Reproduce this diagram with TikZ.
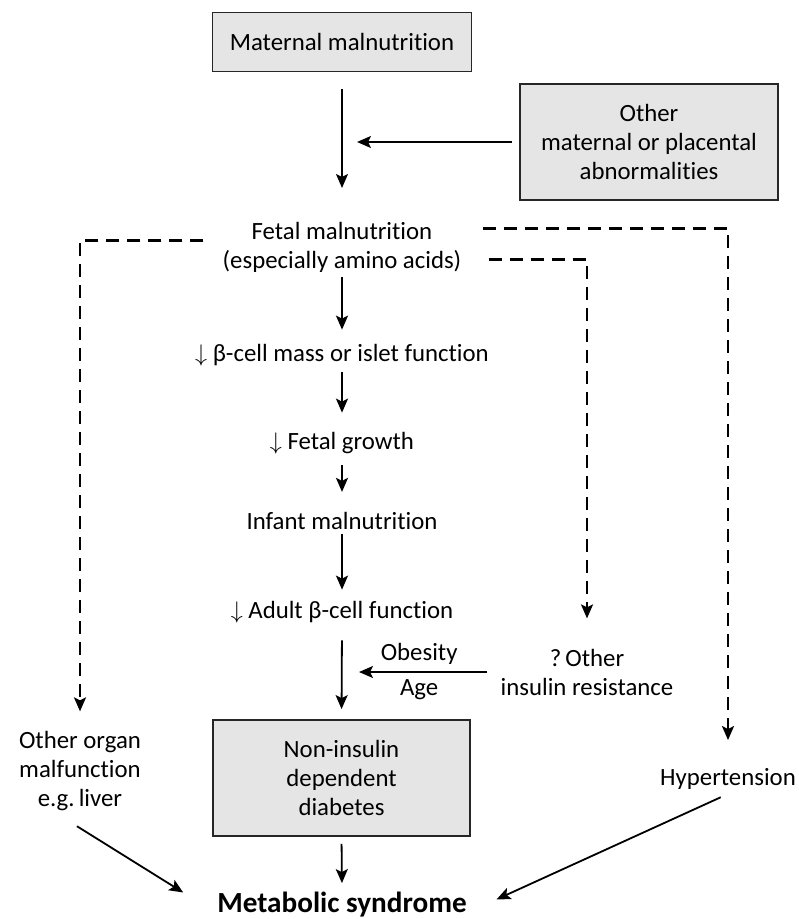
\documentclass[tikz,border=0pt]{standalone}
\usepackage{fontspec}
\setmainfont{Carlito}[RawFeature={-liga}]
\usetikzlibrary{arrows.meta}
\tikzset{
  box/.style={draw=black!85, line width=0.9pt, fill=black!10, align=center, inner sep=4pt},
  txt/.style={align=center, inner sep=2pt},
  arr/.style={line width=0.9pt, -{Stealth[length=7pt,width=6pt,inset=1.5pt]}},
  dsh/.style={arr, line width=1.1pt, dash pattern=on 6.5pt off 4pt},
}
\begin{document}
\begin{tikzpicture}[x=0.5pt, y=-0.5pt, font=\fontsize{12.4}{14.5}\selectfont]
    \useasboundingbox (0,0) rectangle (798,919);
    \node (mat) at (342,42) [box, minimum width=129.5pt, minimum height=29.5pt] {Maternal malnutrition};
    \node (oth) at (649,142) [box, minimum width=129pt, minimum height=58pt] {Other\\maternal or placental\\abnormalities};
    \node (fetal) at (342,247.5) [txt] {Fetal malnutrition\\(especially amino acids)};
    \node (beta) at (342,355) [txt] {$\downarrow$ β-cell mass or islet function};
    \node (growth) at (342,443) [txt] {$\downarrow$ Fetal growth};
    \node (infant) at (342,521) [txt] {Infant malnutrition};
    \node (adult) at (342,612) [txt] {$\downarrow$ Adult β-cell function};
    \node (ins) at (587,672) [txt] {?\,Other\\insulin resistance};
    \node (nidd) at (341.5,778) [box, minimum width=128.5pt, minimum height=58pt] {Non-insulin\\dependent\\diabetes};
    \node (organ) at (80,771.5) [txt] {Other organ\\malfunction\\e.g.\,liver};
    \node (hyper) at (728,779) [txt] {Hypertension};
    \node (meta) at (342,905) [txt, font=\fontsize{14.6}{17}\selectfont\bfseries] {Metabolic syndrome};

    \draw[arr, shorten <=8.5pt, shorten >=15pt] (mat.south) -- (fetal.north);
    \draw[arr, shorten <=3.5pt, shorten >=7.5pt] (oth.west) -- (oth.west -| mat.south);
    \draw[arr, shorten >=5pt] (fetal.south) -- (beta.north);
    \draw[arr, shorten <=1pt, shorten >=7.5pt] (beta.south) -- (growth.north);
    \draw[arr, shorten <=3.5pt, shorten >=8pt] (growth.south) -- (infant.north);
    \draw[arr, shorten >=3.5pt] (infant.south) -- (adult.north);
    \draw[arr, shorten <=6.5pt, shorten >=5pt] (adult.south) -- (nidd.north);
    \draw[arr, shorten <=3.5pt, shorten >=2.5pt] (nidd.south) -- (meta.north);
    \draw[arr, shorten <=4.5pt, shorten >=8.5pt] (ins.west) -- (ins.west -| adult.south)
        node[midway, above] (obes) {Obesity} node[midway, below] (age) {Age};

    \draw[dsh, shorten >=8pt] ([xshift=-7.5pt, yshift=3.5pt]fetal.west) -| (organ.north);
    \draw[dsh, shorten >=13pt] ([xshift=11.5pt, yshift=-6pt]fetal.east) -| (ins.north);
    \draw[dsh, shorten >=12pt] ([xshift=8.5pt, yshift=9.5pt]fetal.east) -| (hyper.north);

    \draw[arr, shorten <=10pt, shorten >=17.5pt] ([xshift=-10pt]organ.south) -- ([yshift=-3pt]meta.west);
    \draw[arr, shorten <=4pt, shorten >=14pt] (hyper.south) -- ([yshift=-3pt]meta.east);
\end{tikzpicture}
\end{document}
